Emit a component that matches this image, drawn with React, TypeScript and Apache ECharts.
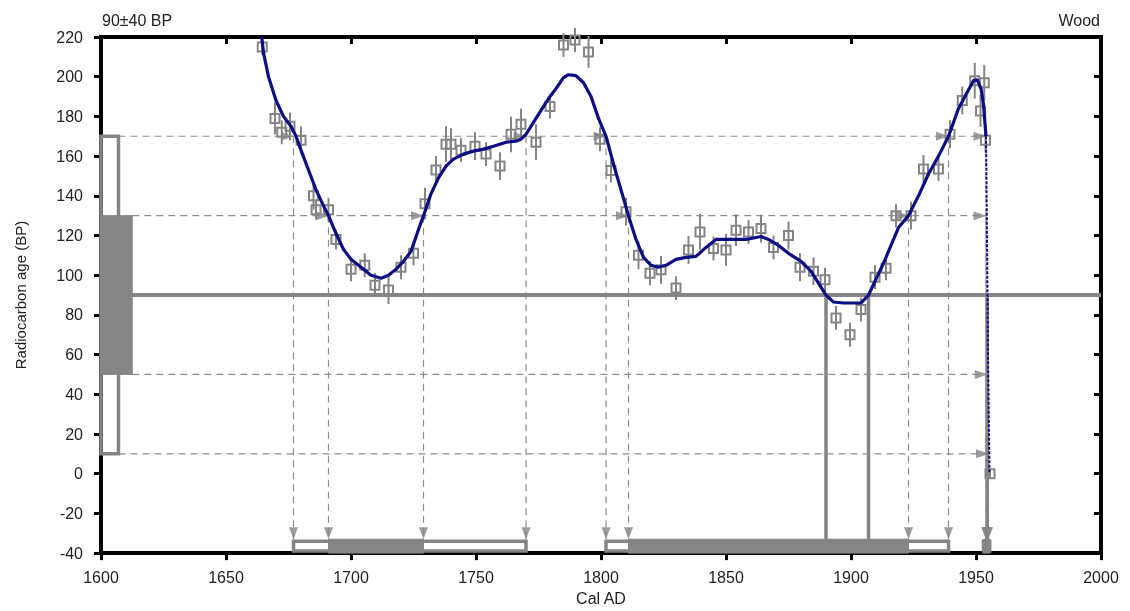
import React, { useEffect, useRef } from "react";
import * as echarts from "echarts";

// ---- Data ----
const xTicks = { min: 1600, max: 2000, interval: 50 };
const yTicks = { min: -40, max: 220, interval: 20 };
const titleLeft = "90±40 BP";
const titleRight = "Wood";
const measuredAge = 90;
const sigma = 40;

// calibration curve (year AD, radiocarbon age BP)
const curveYears = [1664.3, 1665, 1667, 1670, 1673, 1676, 1678, 1680, 1683, 1686, 1689, 1691, 1694, 1697, 1700, 1704, 1708, 1712, 1715, 1718, 1721, 1724, 1727, 1729, 1732, 1735, 1738, 1741, 1745, 1749, 1753, 1757, 1762, 1766, 1768, 1770, 1773, 1776, 1779, 1782, 1785, 1787, 1790, 1793, 1796, 1799, 1802, 1805, 1808, 1811, 1814, 1817, 1820, 1823, 1826, 1830, 1834, 1838, 1842, 1846, 1852, 1858, 1864, 1867, 1871, 1875, 1880, 1884, 1887, 1890, 1893, 1897, 1904, 1907, 1910, 1913, 1916, 1919, 1923, 1927, 1931, 1935, 1939, 1943, 1946, 1949, 1950.5, 1952, 1953, 1954];
const curveAges = [220, 212, 200, 188, 180, 175, 170, 163, 153, 143, 135, 130, 121, 113, 108, 104, 100, 98.5, 100, 103, 107, 112, 123, 130, 141, 149, 155, 158.5, 161, 162.5, 163.5, 165, 167, 167.5, 168.5, 171, 177, 183, 189, 194, 199.5, 201, 200.5, 197, 190, 179, 170, 156, 143, 130, 118, 109, 105, 104, 105, 108, 109, 109.5, 114, 118, 118, 118, 119.5, 118, 115, 111, 107, 102, 96, 90, 86.5, 86, 86, 90, 98, 106, 115, 124, 130, 140, 151, 160, 170, 184, 191, 198, 198.5, 194, 186, 170];
const tailYears = [1954, 1954.4, 1954.8, 1955.4];
const tailAges = [170, 120, 60, 0];

// measured data points (year, age, error)
const pointYears = [1664.5, 1669.6, 1672.3, 1675.6, 1680, 1685, 1686, 1691, 1694, 1700, 1705.5, 1709.6, 1715, 1720, 1725, 1729.6, 1734, 1738, 1740, 1744, 1749.6, 1754, 1759.6, 1764, 1768, 1774, 1779.6, 1785, 1789.6, 1795, 1799.6, 1804, 1810, 1815, 1819.6, 1824, 1830, 1835, 1839.6, 1845, 1850, 1854, 1859, 1864, 1869, 1875, 1879.6, 1885, 1889.6, 1894, 1899.6, 1904, 1909.6, 1914, 1918, 1924, 1929, 1935, 1939.6, 1944.5, 1949.5, 1953.3, 1951.8, 1953.8, 1955.6];
const pointAges = [215, 179, 172, 175, 168, 140, 133, 133, 118, 103, 105, 95, 92.5, 104, 111, 136, 153, 166, 166, 163, 165, 161, 155, 171, 176, 167, 185, 216, 218.5, 212.5, 168.5, 152.7, 132, 110, 101, 102.7, 93.5, 112.7, 121.8, 113.5, 112.7, 122.7, 121.8, 123.5, 114, 120, 104, 102, 97.7, 78.5, 70, 82.7, 99, 103.5, 130, 130, 153.5, 153.5, 171, 188, 198, 197, 182.7, 168, 0];
const pointErrors = [4, 8, 6, 7, 7, 7, 5, 6, 5, 6, 6, 6, 7, 6, 6, 8, 7, 9, 8, 6, 7, 6, 7, 9, 8, 9, 6, 6, 6, 8, 6, 6, 7, 7, 6, 7, 6, 7, 9, 6, 8, 8, 6, 7, 6, 7, 7, 7, 6, 6, 6, 6, 6, 6, 6, 7, 7, 6, 7, 7, 9, 9, 8, 6, 2];

// intercepts of sigma levels with the curve
const cross2Upper = [1677, 1770, 1802, 1939, 1954]; // at 170
const cross1Upper = [1691, 1729, 1811, 1923, 1954]; // at 130
const cross1Lower = [1954.5]; // at 50
const cross2Lower = [1955]; // at 10
const intercepts = [1890, 1907, 1954.5]; // at 90

// calibrated ranges
const range1 = [[1691, 1729], [1811, 1923], [1953, 1955.5]];
const range2 = [[1677, 1770], [1802, 1939], [1953, 1955.5]];
const leftBox2End = 1607;
const leftBox1End = 1612.5;
const barTop = -33;

const GRAY = "#858585";
const DGRAY = "#8e8e8e";
const NAVY = "#0d0d86";
const TXT = "#222";
const FONT = "'Liberation Sans', Arial, sans-serif";

export default function App() {
  const ref = useRef<HTMLDivElement>(null);
  useEffect(() => {
    const chart = echarts.init(ref.current!, null, { renderer: "svg" });
    const lo2 = measuredAge - 2 * sigma, hi2 = measuredAge + 2 * sigma;
    const lo1 = measuredAge - sigma, hi1 = measuredAge + sigma;

    const levels: [number, number[], number][] = [
      [hi2, cross2Upper, leftBox2End],
      [hi1, cross1Upper, leftBox1End],
      [lo1, cross1Lower, leftBox1End],
      [lo2, cross2Lower, leftBox2End],
    ];

    const series: any[] = [];
    levels.forEach(([lvl, xs, start]) => {
      const last = Math.max(...xs);
      series.push({
        type: "line", data: [[start, lvl], [last, lvl]], symbol: "none", silent: true,
        lineStyle: { color: DGRAY, width: 1.2, type: [7, 5] }, z: 1,
      });
      xs.forEach((x) => {
        series.push({
          type: "line", data: [[x, lvl], [x, barTop]], symbol: "none", silent: true,
          lineStyle: { color: DGRAY, width: 1.2, type: [7, 5] }, z: 1,
        });
      });
    });
    series.push({
      type: "line", data: [[xTicks.min, measuredAge], [xTicks.max, measuredAge]], symbol: "none",
      lineStyle: { color: GRAY, width: 4 }, z: 2,
    });
    intercepts.forEach((x) => {
      series.push({
        type: "line", data: [[x, measuredAge], [x, yTicks.min]], symbol: "none",
        lineStyle: { color: GRAY, width: 3.5 }, z: 2,
      });
    });
    const boxes: any[] = [];
    boxes.push([xTicks.min, leftBox2End, lo2, hi2, 0]);
    boxes.push([xTicks.min, leftBox1End, lo1, hi1, 1]);
    range2.forEach(([a, b]) => boxes.push([a, b, yTicks.min + 1, barTop - 1, 0]));
    range1.forEach(([a, b]) => boxes.push([a, b, yTicks.min, barTop, 1]));
    series.push({
      type: "custom", data: boxes, z: 3,
      renderItem: (p: any, api: any) => {
        const a = api.coord([api.value(0), api.value(2)]);
        const b = api.coord([api.value(1), api.value(3)]);
        const filled = api.value(4) === 1;
        return {
          type: "rect",
          shape: { x: a[0], y: b[1], width: b[0] - a[0], height: a[1] - b[1] },
          style: filled ? { fill: GRAY, stroke: GRAY, lineWidth: 1 } : { fill: "none", stroke: GRAY, lineWidth: 3.5 },
        };
      },
    });
    const rightArrows: number[][] = [];
    const downArrows: number[][] = [];
    levels.forEach(([lvl, xs]) => xs.forEach((x) => { rightArrows.push([x, lvl]); downArrows.push([x, barTop]); }));
    series.push({
      type: "scatter", data: rightArrows, symbol: "triangle", symbolSize: [9, 13], symbolRotate: -90,
      symbolOffset: [-6, 0], itemStyle: { color: GRAY }, z: 4, silent: true,
    });
    series.push({
      type: "scatter", data: downArrows, symbol: "triangle", symbolSize: [9, 12], symbolRotate: 180,
      symbolOffset: [0, -6], itemStyle: { color: GRAY }, z: 4, silent: true,
    });
    series.push({
      type: "custom", z: 5,
      data: pointYears.map((x, i) => [x, pointAges[i], pointErrors[i]]),
      renderItem: (p: any, api: any) => {
        const x = api.value(0), y = api.value(1), e = api.value(2);
        const c = api.coord([x, y]);
        const t = api.coord([x, y + e]);
        const b = api.coord([x, y - e]);
        return {
          type: "group",
          children: [
            { type: "line", shape: { x1: c[0], y1: t[1], x2: c[0], y2: b[1] }, style: { stroke: GRAY, lineWidth: 2 } },
            { type: "rect", shape: { x: c[0] - 4.5, y: c[1] - 4.5, width: 9, height: 9 }, style: { fill: "none", stroke: GRAY, lineWidth: 2 } },
          ],
        };
      },
    });
    series.push({
      type: "line", data: curveYears.map((x, i) => [x, curveAges[i]]), symbol: "none",
      lineStyle: { color: NAVY, width: 3.2 }, z: 6,
    });
    series.push({
      type: "line", data: tailYears.map((x, i) => [x, tailAges[i]]), symbol: "none",
      lineStyle: { color: NAVY, width: 2, type: [3, 1.5] }, z: 6,
    });

    const axisLine = { show: true, onZero: false, lineStyle: { color: "#000", width: 4, cap: "square" } };
    const tickOut = { show: true, length: 7, lineStyle: { color: "#000", width: 3 } };
    const tickIn = { show: true, inside: true, length: 7, lineStyle: { color: "#000", width: 3 } };
    const labelStyle = { color: TXT, fontSize: 16, fontFamily: FONT, formatter: (v: number) => String(v) };

    chart.setOption({
      animation: false,
      grid: { left: 101, right: 29, top: 37, bottom: 54 },
      graphic: [
        { type: "text", left: 102, top: 12, style: { text: titleLeft, fill: TXT, font: `16px ${FONT}` } },
        { type: "text", right: 30, top: 12, style: { text: titleRight, fill: TXT, font: `16px ${FONT}` } },
      ],
      xAxis: [
        {
          type: "value", min: xTicks.min, max: xTicks.max, interval: xTicks.interval,
          axisLine, axisTick: tickOut, splitLine: { show: false },
          axisLabel: { ...labelStyle, margin: 16 },
          name: "Cal AD", nameLocation: "middle", nameGap: 35,
          nameTextStyle: { color: TXT, fontSize: 16, fontFamily: FONT },
        },
        {
          type: "value", position: "top", min: xTicks.min, max: xTicks.max, interval: xTicks.interval,
          axisLine, axisTick: tickIn, splitLine: { show: false }, axisLabel: { show: false },
        },
      ],
      yAxis: [
        {
          type: "value", min: yTicks.min, max: yTicks.max, interval: yTicks.interval,
          axisLine, axisTick: tickOut, splitLine: { show: false },
          axisLabel: { ...labelStyle, margin: 18 },
          name: "Radiocarbon age (BP)", nameLocation: "middle", nameGap: 73,
          nameTextStyle: { color: TXT, fontSize: 15, fontFamily: FONT },
        },
        {
          type: "value", position: "right", min: yTicks.min, max: yTicks.max, interval: yTicks.interval,
          axisLine, axisTick: tickIn, splitLine: { show: false }, axisLabel: { show: false },
        },
      ],
      series,
    });
    return () => chart.dispose();
  }, []);
  return <div ref={ref} style={{ position: "fixed", left: 0, top: 0, width: 1130, height: 611 }} />;
}
